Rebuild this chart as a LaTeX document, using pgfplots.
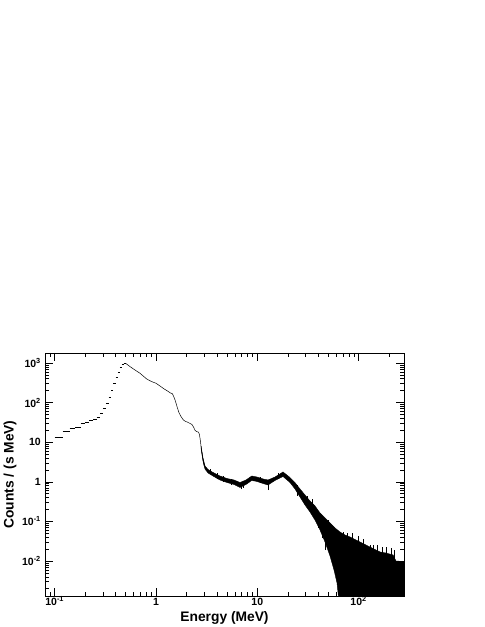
\documentclass[border=0pt]{standalone}
\usepackage{fontspec}
\setmainfont{Liberation Sans}
\usepackage{pgfplots}
\pgfplotsset{compat=1.18}
\begin{document}
\begin{tikzpicture}
\useasboundingbox (0,0) rectangle (485bp,627bp);
\begin{axis}[
  at={(45bp,31bp)}, anchor=south west,
  scale only axis, width=359bp, height=243bp,
  xmode=log, ymode=log,
  xmin=0.0802, xmax=280.6, ymin=0.001306, ymax=1788,
  axis line style={line width=0.8bp},
  tick align=inside, tick pos=both,
  xticklabel pos=lower, yticklabel pos=left,
  xtick={0.1,1,10,100},
  xticklabels={10\textsuperscript{-1},1,10,10\textsuperscript{2}},
  ytick={0.01,0.1,1,10,100,1000},
  yticklabels={10\textsuperscript{-2},10\textsuperscript{-1},1,10,10\textsuperscript{2},10\textsuperscript{3}},
  minor xtick={0.09,0.2,0.3,0.4,0.5,0.6,0.7,0.8,0.9,2,3,4,5,6,7,8,9,20,30,40,50,60,70,80,90,200},
  minor ytick={0.002,0.003,0.004,0.005,0.006,0.007,0.008,0.009,0.02,0.03,0.04,0.05,0.06,0.07,0.08,0.09,0.2,0.3,0.4,0.5,0.6,0.7,0.8,0.9,2,3,4,5,6,7,8,9,20,30,40,50,60,70,80,90,200,300,400,500,600,700,800,900},
  major tick length=8bp, minor tick length=4bp,
  every tick/.style={black, line width=0.5bp},
  tick label style={font=\bfseries\fontsize{10.5bp}{12bp}\selectfont},
  x tick label style={anchor=base, yshift=-9bp},
  y tick label style={anchor=east, inner sep=0pt, xshift=-4bp},
  xlabel={Energy (MeV)}, ylabel={Counts / (s MeV)},
  label style={font=\bfseries\fontsize{13.8bp}{16bp}\selectfont},
  xlabel style={at={(axis description cs:0.5,-0.1029)}, anchor=base},
  ylabel style={at={(axis description cs:-0.0877,0.5)}, anchor=base},
]
% low-energy bins (0.02 MeV wide)
\addplot[black, line width=0.8bp, unbounded coords=jump] coordinates {
(0.10,13.6)(0.12,13.6)(0.12,nan)
(0.12,18.2)(0.14,18.2)(0.14,nan)
(0.14,21.7)(0.16,21.7)(0.16,nan)
(0.16,24.3)(0.18,24.3)(0.18,nan)
(0.18,29.0)(0.20,29.0)(0.20,nan)
(0.20,32.5)(0.22,32.5)(0.22,nan)
(0.22,36.5)(0.24,36.5)(0.24,nan)
(0.24,38.7)(0.26,38.7)(0.26,nan)
(0.26,43.5)(0.28,43.5)(0.28,nan)
(0.28,54.9)(0.30,54.9)(0.30,nan)
(0.30,73)(0.32,73)(0.32,nan)
(0.32,98)(0.34,98)(0.34,nan)
(0.34,139)(0.36,139)(0.36,nan)
(0.36,208)(0.38,208)(0.38,nan)
(0.38,313)(0.40,313)(0.40,nan)
(0.40,444)(0.42,444)(0.42,nan)
(0.42,593)(0.44,593)(0.44,nan)
(0.44,793)(0.46,793)(0.46,nan)
(0.46,944)(0.48,944)(0.48,nan)
(0.48,1000)(0.50,1000)
};
% smooth part
\addplot[black, line width=0.5bp] coordinates {
(0.50,985)(0.55,820)(0.62,666)(0.695,550)(0.809,395)(0.90,341)(1.0,308)
(1.10,260)(1.20,222)(1.30,196)(1.38,176)(1.45,168)(1.50,140)(1.55,112)
(1.62,76)(1.68,57)(1.75,46)(1.86,36.6)(1.95,33.5)(2.05,32)(2.15,30)
(2.26,28.1)(2.35,24)(2.43,19.9)(2.52,18.5)(2.62,18)(2.68,16)(2.74,11)
(2.78,8)(2.85,5)(2.91,3.6)(2.99,2.5)
};
% noisy band
\addplot[fill=black, draw=black, line width=0.4bp] coordinates {
(2.781,8.02)(2.911,3.99)(3.045,2.51)(3.262,2.05)(3.653,1.72)(4.282,1.40)
(5.022,1.21)(5.888,1.11)(6.750,0.960)(7.736,1.11)(8.806,1.40)(9.931,1.32)
(11.38,1.18)(12.75,1.11)(14.95,1.32)(17.94,1.77)(21.03,1.28)(23.56,0.950)
(26.39,0.658)(29.58,0.464)(33.13,0.327)(37.12,0.245)(41.59,0.163)(46.60,0.122)
(52.21,0.0911)(58.5,0.0681)(65.54,0.0540)(73.42,0.0453)(82.26,0.0404)
(94.26,0.0339)(108.0,0.0285)(123.8,0.0239)(141.9,0.0201)(162.7,0.0169)
(186.4,0.0159)(218.6,0.0142)(234.0,0.0100)(280.6,0.00966)
(280.6,0.0005)(65.54,0.0005)(61.22,0.00278)(57.18,0.00592)(52.21,0.0134)
(46.60,0.0302)(41.59,0.0607)(37.12,0.108)(33.13,0.173)(29.58,0.259)
(26.39,0.413)(23.56,0.658)(21.03,0.960)(17.94,1.36)(14.95,1.08)(12.75,0.830)
(11.38,0.906)(9.931,1.02)(8.806,1.08)(7.736,0.855)(6.750,0.718)(5.888,0.855)
(5.022,0.960)(4.282,1.11)(3.653,1.40)(3.262,1.67)(3.045,2.10)(2.911,3.35)
(2.781,7.14)
};
% spikes
\addplot[black, line width=0.5bp, unbounded coords=jump] coordinates {
(3.4,1.6)(3.4,2.1)(3.4,nan)
(4.0,1.15)(4.0,1.62)(4.0,nan)
(4.6,1.0)(4.6,1.4)(4.6,nan)
(5.5,0.85)(5.5,1.2)(5.5,nan)
(6.9,0.65)(6.9,0.8)(6.9,nan)
(7.3,0.7)(7.3,1.05)(7.3,nan)
(10.6,0.95)(10.6,1.32)(10.6,nan)
(12.75,0.62)(12.75,0.9)(12.75,nan)
(16.2,1.2)(16.2,1.65)(16.2,nan)
(25,0.45)(25,0.85)(25,nan)
(31,0.25)(31,0.45)(31,nan)
(35,0.2)(35,0.36)(35,nan)
(39.7,0.068)(39.7,0.12)(39.7,nan)
(43.3,0.038)(43.3,0.1)(43.3,nan)
(46.6,0.019)(46.6,0.06)(46.6,nan)
(50,0.08)(50,0.11)(50,nan)
(70.1,0.03)(70.1,0.055)(70.1,nan)
(77,0.03)(77,0.05)(77,nan)
(86,0.03)(86,0.051)(86,nan)
(99,0.02)(99,0.042)(99,nan)
(112,0.02)(112,0.035)(112,nan)
(129,0.015)(129,0.0254)(129,nan)
(140,0.015)(140,0.026)(140,nan)
(152,0.012)(152,0.0254)(152,nan)
(170,0.012)(170,0.022)(170,nan)
(186,0.012)(186,0.022)(186,nan)
(208,0.01)(208,0.0214)(208,nan)
(225,0.01)(225,0.019)
};
\end{axis}
\end{tikzpicture}
\end{document}
